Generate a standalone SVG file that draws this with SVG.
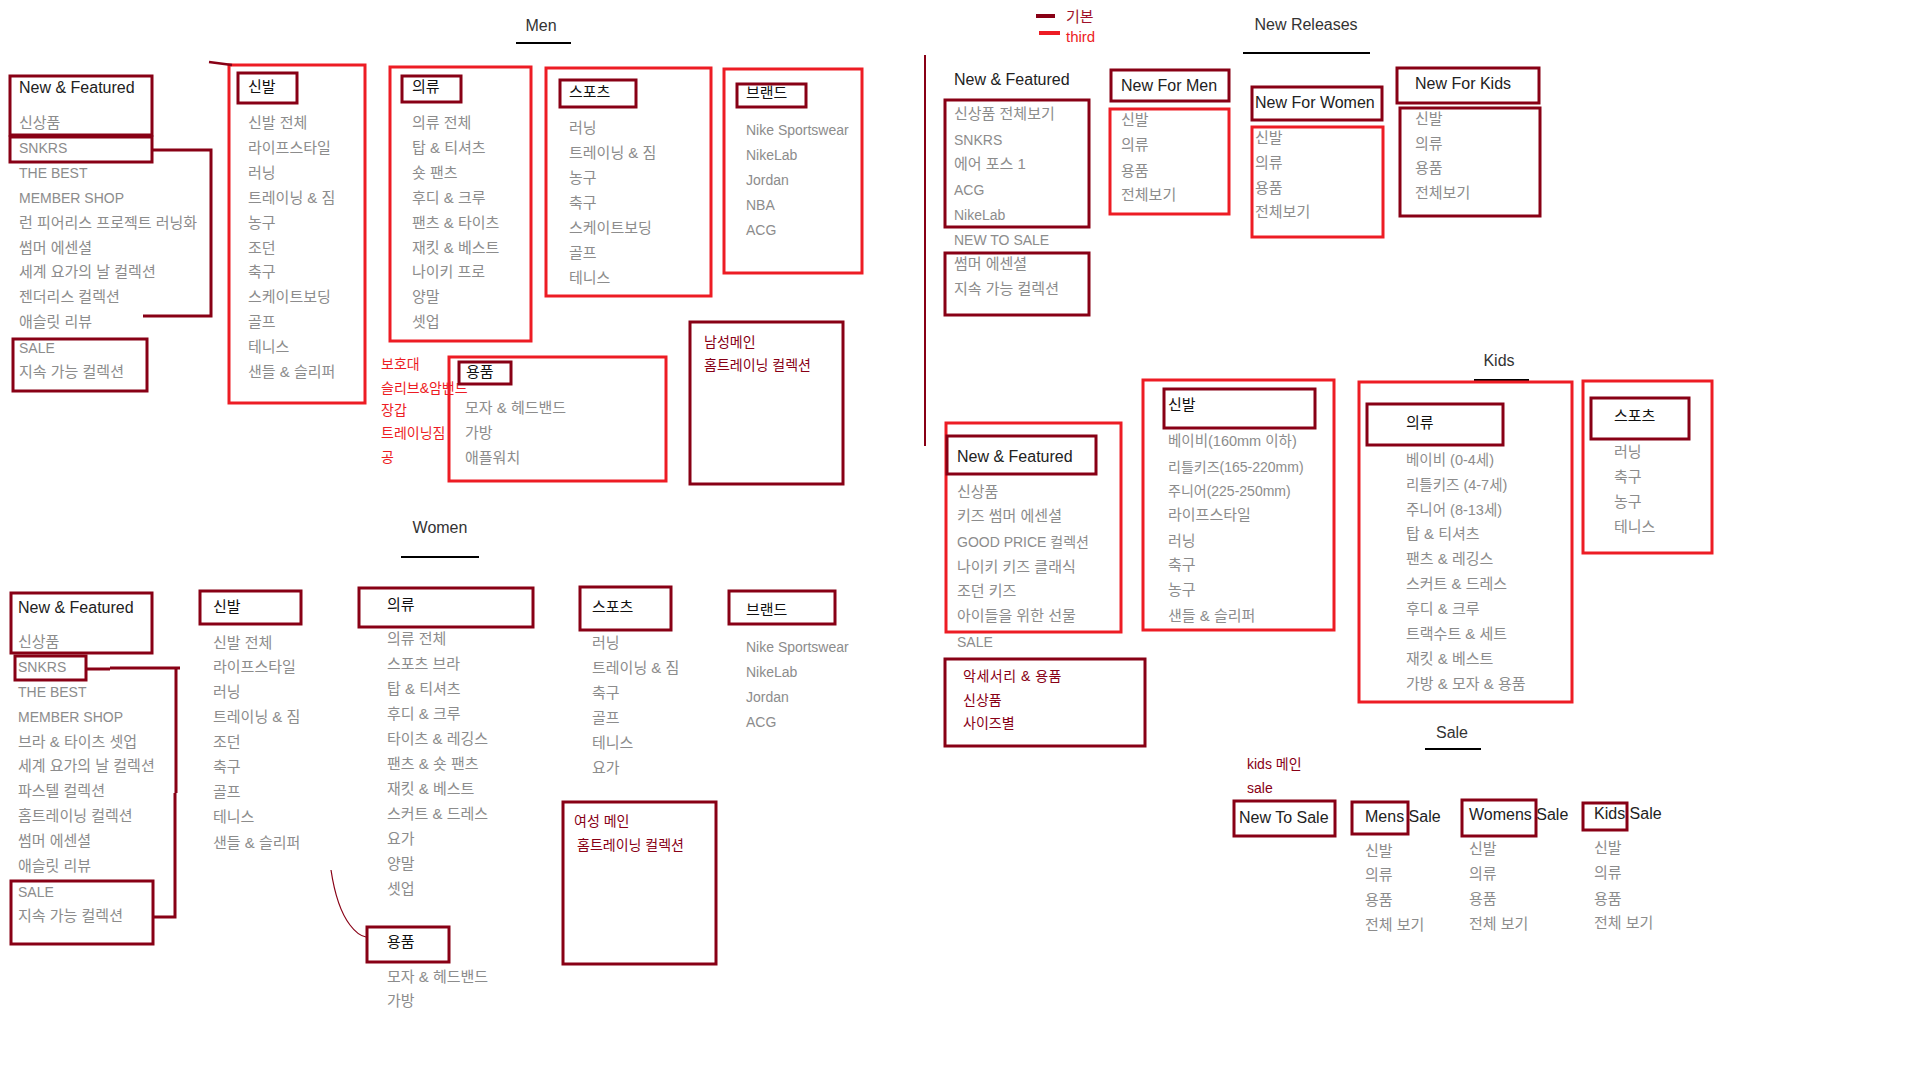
<svg xmlns="http://www.w3.org/2000/svg" width="1914" height="1070" viewBox="0 0 1914 1070">
<style>
text{font-family:"Liberation Sans","Noto Sans CJK KR",sans-serif}
.it{font-size:14px;fill:#8c8c8c}
.k{font-size:15px}
.m{font-size:14.5px}
.hd{font-size:16px;fill:#222}
.hk{font-size:15px;fill:#111}
.ti{font-size:16px;fill:#333;text-anchor:middle}
.rt{font-size:14px;fill:#ED1C24}
.dt{font-size:14px;fill:#880015}
.dr{fill:none;stroke:#880015;stroke-width:3}
.rr{fill:none;stroke:#ED1C24;stroke-width:3}
.ul{stroke:#000;stroke-width:2}
.cn{fill:none;stroke:#880015;stroke-width:3}
</style>
<rect width="1914" height="1070" fill="#fff"/>

<!-- ===== MEN ===== -->
<g id="men-title"><text class="ti" x="541" y="31">Men</text><line class="ul" x1="516" y1="43" x2="571" y2="43"/></g>

<g id="men-nf">
<rect class="dr" x="10" y="76" width="142" height="59"/>
<text class="hd" x="19" y="93">New &amp; Featured</text>
<text class="it k" x="19" y="128">신상품</text>
<rect class="dr" x="10" y="137" width="142" height="25"/>
<text class="it" x="19" y="153">SNKRS</text>
<text class="it" x="19" y="178">THE BEST</text>
<text class="it" x="19" y="203">MEMBER SHOP</text>
<text class="it k" x="19" y="228">런 피어리스 프로젝트 러닝화</text>
<text class="it k" x="19" y="253">썸머 에센셜</text>
<text class="it k" x="19" y="277">세계 요가의 날 컬렉션</text>
<text class="it k" x="19" y="302">젠더리스 컬렉션</text>
<text class="it k" x="19" y="327">애슬릿 리뷰</text>
<rect class="dr" x="13" y="339" width="134" height="52"/>
<text class="it" x="19" y="353">SALE</text>
<text class="it k" x="19" y="377">지속 가능 컬렉션</text>
</g>

<g id="men-shoes">
<rect class="rr" x="229" y="65" width="136" height="338"/>
<rect class="dr" x="238" y="73" width="59" height="30"/>
<text class="hk" x="248" y="92">신발</text>
<text class="it k" x="248" y="128">신발 전체</text>
<text class="it k" x="248" y="153">라이프스타일</text>
<text class="it k" x="248" y="178">러닝</text>
<text class="it k" x="248" y="203">트레이닝 &amp; 짐</text>
<text class="it k" x="248" y="228">농구</text>
<text class="it k" x="248" y="253">조던</text>
<text class="it k" x="248" y="277">축구</text>
<text class="it k" x="248" y="302">스케이트보딩</text>
<text class="it k" x="248" y="327">골프</text>
<text class="it k" x="248" y="352">테니스</text>
<text class="it k" x="248" y="377">샌들 &amp; 슬리퍼</text>
</g>

<g id="men-clothing">
<rect class="rr" x="390" y="67" width="141" height="274"/>
<rect class="dr" x="402" y="76" width="59" height="26"/>
<text class="hk" x="412" y="92">의류</text>
<text class="it k" x="412" y="128">의류 전체</text>
<text class="it k" x="412" y="153">탑 &amp; 티셔츠</text>
<text class="it k" x="412" y="178">숏 팬츠</text>
<text class="it k" x="412" y="203">후디 &amp; 크루</text>
<text class="it k" x="412" y="228">팬츠 &amp; 타이츠</text>
<text class="it k" x="412" y="253">재킷 &amp; 베스트</text>
<text class="it k" x="412" y="277">나이키 프로</text>
<text class="it k" x="412" y="302">양말</text>
<text class="it k" x="412" y="327">셋업</text>
</g>

<g id="men-sports">
<rect class="rr" x="546" y="68" width="165" height="228"/>
<rect class="dr" x="560" y="80" width="76" height="27"/>
<text class="hk" x="569" y="97">스포츠</text>
<text class="it k" x="569" y="133">러닝</text>
<text class="it k" x="569" y="158">트레이닝 &amp; 짐</text>
<text class="it k" x="569" y="183">농구</text>
<text class="it k" x="569" y="208">축구</text>
<text class="it k" x="569" y="233">스케이트보딩</text>
<text class="it k" x="569" y="258">골프</text>
<text class="it k" x="569" y="283">테니스</text>
</g>

<g id="men-brand">
<rect class="rr" x="724" y="69" width="138" height="204"/>
<rect class="dr" x="737" y="84" width="69" height="23"/>
<text class="hk" x="746" y="98">브랜드</text>
<text class="it" x="746" y="135">Nike Sportswear</text>
<text class="it" x="746" y="160">NikeLab</text>
<text class="it" x="746" y="185">Jordan</text>
<text class="it" x="746" y="210">NBA</text>
<text class="it" x="746" y="235">ACG</text>
</g>

<g id="men-main">
<rect class="dr" x="690" y="322" width="153" height="162"/>
<text class="dt" x="704" y="347">남성메인</text>
<text class="dt" x="704" y="370">홈트레이닝 컬렉션</text>
</g>

<g id="men-extra">
<text class="rt" x="381" y="369">보호대</text>
<text class="rt" x="381" y="393">슬리브&amp;암밴드</text>
<text class="rt" x="381" y="415">장갑</text>
<text class="rt" x="381" y="438">트레이닝짐</text>
<text class="rt" x="381" y="462">공</text>
</g>

<g id="men-acc">
<rect class="rr" x="449" y="357" width="217" height="124"/>
<rect class="dr" x="459" y="362" width="52" height="22"/>
<text class="hk" x="466" y="377">용품</text>
<text class="it k" x="465" y="413">모자 &amp; 헤드밴드</text>
<text class="it k" x="465" y="438">가방</text>
<text class="it k" x="465" y="463">애플워치</text>
</g>

<!-- ===== WOMEN ===== -->
<g id="women-title"><text class="ti" x="440" y="533">Women</text><line class="ul" x1="401" y1="557" x2="479" y2="557"/></g>

<g id="women-nf">
<rect class="dr" x="11" y="593" width="141" height="60"/>
<text class="hd" x="18" y="613">New &amp; Featured</text>
<text class="it k" x="18" y="647">신상품</text>
<rect class="dr" x="15" y="656" width="71" height="24"/>
<text class="it" x="18" y="672">SNKRS</text>
<text class="it" x="18" y="697">THE BEST</text>
<text class="it" x="18" y="722">MEMBER SHOP</text>
<text class="it k" x="18" y="747">브라 &amp; 타이츠 셋업</text>
<text class="it k" x="18" y="771">세계 요가의 날 컬렉션</text>
<text class="it k" x="18" y="796">파스텔 컬렉션</text>
<text class="it k" x="18" y="821">홈트레이닝 컬렉션</text>
<text class="it k" x="18" y="846">썸머 에센셜</text>
<text class="it k" x="18" y="871">애슬릿 리뷰</text>
<rect class="dr" x="11" y="881" width="142" height="63"/>
<text class="it" x="18" y="897">SALE</text>
<text class="it k" x="18" y="921">지속 가능 컬렉션</text>
</g>

<g id="women-shoes">
<rect class="dr" x="200" y="591" width="101" height="33"/>
<text class="hk" x="213" y="612">신발</text>
<text class="it k" x="213" y="648">신발 전체</text>
<text class="it k" x="213" y="672">라이프스타일</text>
<text class="it k" x="213" y="697">러닝</text>
<text class="it k" x="213" y="722">트레이닝 &amp; 짐</text>
<text class="it k" x="213" y="747">조던</text>
<text class="it k" x="213" y="772">축구</text>
<text class="it k" x="213" y="797">골프</text>
<text class="it k" x="213" y="822">테니스</text>
<text class="it k" x="213" y="848">샌들 &amp; 슬리퍼</text>
</g>

<g id="women-clothing">
<rect class="dr" x="359" y="588" width="174" height="39"/>
<text class="hk" x="387" y="610">의류</text>
<text class="it k" x="387" y="644">의류 전체</text>
<text class="it k" x="387" y="669">스포츠 브라</text>
<text class="it k" x="387" y="694">탑 &amp; 티셔츠</text>
<text class="it k" x="387" y="719">후디 &amp; 크루</text>
<text class="it k" x="387" y="744">타이츠 &amp; 레깅스</text>
<text class="it k" x="387" y="769">팬츠 &amp; 숏 팬츠</text>
<text class="it k" x="387" y="794">재킷 &amp; 베스트</text>
<text class="it k" x="387" y="819">스커트 &amp; 드레스</text>
<text class="it k" x="387" y="844">요가</text>
<text class="it k" x="387" y="869">양말</text>
<text class="it k" x="387" y="894">셋업</text>
</g>

<g id="women-acc">
<rect class="dr" x="367" y="927" width="82" height="35"/>
<text class="hk" x="387" y="947">용품</text>
<text class="it k" x="387" y="982">모자 &amp; 헤드밴드</text>
<text class="it k" x="387" y="1006">가방</text>
</g>

<g id="women-sports">
<rect class="dr" x="580" y="587" width="91" height="43"/>
<text class="hk" x="592" y="612">스포츠</text>
<text class="it k" x="592" y="648">러닝</text>
<text class="it k" x="592" y="673">트레이닝 &amp; 짐</text>
<text class="it k" x="592" y="698">축구</text>
<text class="it k" x="592" y="723">골프</text>
<text class="it k" x="592" y="748">테니스</text>
<text class="it k" x="592" y="773">요가</text>
</g>

<g id="women-brand">
<rect class="dr" x="729" y="591" width="106" height="33"/>
<text class="hk" x="746" y="615">브랜드</text>
<text class="it" x="746" y="652">Nike Sportswear</text>
<text class="it" x="746" y="677">NikeLab</text>
<text class="it" x="746" y="702">Jordan</text>
<text class="it" x="746" y="727">ACG</text>
</g>

<g id="women-main">
<rect class="dr" x="563" y="802" width="153" height="162"/>
<text class="dt" x="574" y="826">여성 메인</text>
<text class="dt" x="577" y="850">홈트레이닝 컬렉션</text>
</g>

<!-- ===== LEGEND ===== -->
<g id="legend">
<line x1="1036" y1="16" x2="1055" y2="16" stroke="#880015" stroke-width="4"/>
<text x="1066" y="22" font-size="15" fill="#A0102A">기본</text>
<line x1="1039" y1="33" x2="1060" y2="33" stroke="#ED1C24" stroke-width="4"/>
<text x="1066" y="42" font-size="15" fill="#ED1C24">third</text>
</g>

<!-- ===== NEW RELEASES ===== -->
<g id="nr-title"><text class="ti" x="1306" y="30">New Releases</text><line class="ul" x1="1243" y1="53" x2="1370" y2="53"/></g>

<g id="nr-nf">
<text class="hd" x="954" y="85">New &amp; Featured</text>
<rect class="dr" x="945" y="100" width="144" height="127"/>
<text class="it k" x="954" y="119">신상품 전체보기</text>
<text class="it" x="954" y="145">SNKRS</text>
<text class="it k" x="954" y="169">에어 포스 1</text>
<text class="it" x="954" y="195">ACG</text>
<text class="it" x="954" y="220">NikeLab</text>
<text class="it" x="954" y="245">NEW TO SALE</text>
<rect class="dr" x="945" y="253" width="144" height="62"/>
<text class="it k" x="954" y="269">썸머 에센셜</text>
<text class="it k" x="954" y="294">지속 가능 컬렉션</text>
</g>

<g id="nr-men">
<rect class="dr" x="1111" y="70" width="118" height="31"/>
<text class="hd" x="1121" y="91">New For Men</text>
<rect class="rr" x="1110" y="109" width="119" height="105"/>
<text class="it k" x="1121" y="125">신발</text>
<text class="it k" x="1121" y="150">의류</text>
<text class="it k" x="1121" y="176">용품</text>
<text class="it k" x="1121" y="200">전체보기</text>
</g>

<g id="nr-women">
<rect class="dr" x="1252" y="87" width="130" height="33"/>
<text class="hd" x="1255" y="108">New For Women</text>
<rect class="rr" x="1252" y="127" width="131" height="110"/>
<text class="it k" x="1255" y="143">신발</text>
<text class="it k" x="1255" y="168">의류</text>
<text class="it k" x="1255" y="193">용품</text>
<text class="it k" x="1255" y="217">전체보기</text>
</g>

<g id="nr-kids">
<rect class="dr" x="1397" y="68" width="142" height="35"/>
<text class="hd" x="1415" y="89">New For Kids</text>
<rect class="dr" x="1400" y="108" width="140" height="108"/>
<text class="it k" x="1415" y="124">신발</text>
<text class="it k" x="1415" y="149">의류</text>
<text class="it k" x="1415" y="173">용품</text>
<text class="it k" x="1415" y="198">전체보기</text>
</g>

<!-- ===== KIDS ===== -->
<g id="kids-title"><text class="ti" x="1499" y="366">Kids</text><line class="ul" x1="1474" y1="380" x2="1529" y2="380"/></g>

<g id="kids-nf">
<rect class="rr" x="946" y="423" width="175" height="209"/>
<rect class="dr" x="947" y="436" width="149" height="38"/>
<text class="hd" x="957" y="462">New &amp; Featured</text>
<text class="it k" x="957" y="497">신상품</text>
<text class="it k" x="957" y="521">키즈 썸머 에센셜</text>
<text class="it" x="957" y="547">GOOD PRICE 컬렉션</text>
<text class="it k" x="957" y="572">나이키 키즈 클래식</text>
<text class="it k" x="957" y="596">조던 키즈</text>
<text class="it k" x="957" y="621">아이들을 위한 선물</text>
<text class="it" x="957" y="647">SALE</text>
</g>

<g id="kids-acc">
<rect class="dr" x="945" y="659" width="200" height="87"/>
<text class="dt" x="963" y="681" letter-spacing="0.5">악세서리 &amp; 용품</text>
<text class="dt" x="963" y="705">신상품</text>
<text class="dt" x="963" y="728">사이즈별</text>
</g>

<g id="kids-shoes">
<rect class="rr" x="1143" y="380" width="191" height="250"/>
<rect class="dr" x="1164" y="389" width="151" height="39"/>
<text class="hk" x="1168" y="410">신발</text>
<text class="it m" x="1168" y="446">베이비(160mm 이하)</text>
<text class="it" x="1168" y="472">리틀키즈(165-220mm)</text>
<text class="it" x="1168" y="496">주니어(225-250mm)</text>
<text class="it k" x="1168" y="520">라이프스타일</text>
<text class="it k" x="1168" y="546">러닝</text>
<text class="it k" x="1168" y="570">축구</text>
<text class="it k" x="1168" y="595">농구</text>
<text class="it k" x="1168" y="621">샌들 &amp; 슬리퍼</text>
</g>

<g id="kids-clothing">
<rect class="rr" x="1359" y="382" width="213" height="320"/>
<rect class="dr" x="1367" y="404" width="136" height="41"/>
<text class="hk" x="1406" y="428">의류</text>
<text class="it m" x="1406" y="465">베이비 (0-4세)</text>
<text class="it m" x="1406" y="490">리틀키즈 (4-7세)</text>
<text class="it m" x="1406" y="515">주니어 (8-13세)</text>
<text class="it k" x="1406" y="539">탑 &amp; 티셔츠</text>
<text class="it k" x="1406" y="564">팬츠 &amp; 레깅스</text>
<text class="it k" x="1406" y="589">스커트 &amp; 드레스</text>
<text class="it k" x="1406" y="614">후디 &amp; 크루</text>
<text class="it k" x="1406" y="639">트랙수트 &amp; 세트</text>
<text class="it k" x="1406" y="664">재킷 &amp; 베스트</text>
<text class="it k" x="1406" y="689">가방 &amp; 모자 &amp; 용품</text>
</g>

<g id="kids-sports">
<rect class="rr" x="1583" y="381" width="129" height="172"/>
<rect class="dr" x="1591" y="398" width="98" height="41"/>
<text class="hk" x="1614" y="421">스포츠</text>
<text class="it k" x="1614" y="457">러닝</text>
<text class="it k" x="1614" y="482">축구</text>
<text class="it k" x="1614" y="507">농구</text>
<text class="it k" x="1614" y="532">테니스</text>
</g>

<!-- ===== SALE ===== -->
<g id="sale-title"><text class="ti" x="1452" y="738">Sale</text><line class="ul" x1="1425" y1="749" x2="1481" y2="749"/></g>

<g id="sale-notes">
<text class="dt" x="1247" y="769">kids 메인</text>
<text class="dt" x="1247" y="793">sale</text>
</g>

<g id="sale-new">
<rect class="dr" x="1234" y="801" width="101" height="35"/>
<text class="hd" x="1239" y="823">New To Sale</text>
</g>

<g id="sale-mens">
<rect class="dr" x="1352" y="802" width="56" height="32"/>
<text class="hd" x="1365" y="822">Mens Sale</text>
<text class="it k" x="1365" y="856">신발</text>
<text class="it k" x="1365" y="880">의류</text>
<text class="it k" x="1365" y="905">용품</text>
<text class="it k" x="1365" y="930">전체 보기</text>
</g>

<g id="sale-womens">
<rect class="dr" x="1462" y="800" width="74" height="36"/>
<text class="hd" x="1469" y="820">Womens Sale</text>
<text class="it k" x="1469" y="854">신발</text>
<text class="it k" x="1469" y="879">의류</text>
<text class="it k" x="1469" y="904">용품</text>
<text class="it k" x="1469" y="929">전체 보기</text>
</g>

<g id="sale-kids">
<rect class="dr" x="1583" y="803" width="44" height="27"/>
<text class="hd" x="1594" y="819">Kids Sale</text>
<text class="it k" x="1594" y="853">신발</text>
<text class="it k" x="1594" y="878">의류</text>
<text class="it k" x="1594" y="904">용품</text>
<text class="it k" x="1594" y="928">전체 보기</text>
</g>

<!-- ===== CONNECTORS ===== -->
<g id="connectors">
<polyline class="cn" points="152,150 211,150 211,316 143,316"/>
<path class="cn" d="M86,669 H110 M110,668 H180 M176,668 V793 M175,793 V917 H153"/>
<path d="M209,62 L232,65" fill="none" stroke="#880015" stroke-width="2.5"/>
<path d="M331,870 C334,890 340,912 350,925 C356,933 360,936 366,937" fill="none" stroke="#880015" stroke-width="1.2"/>
<line x1="925" y1="55" x2="925" y2="446" stroke="#880015" stroke-width="2"/>
</g>
</svg>
